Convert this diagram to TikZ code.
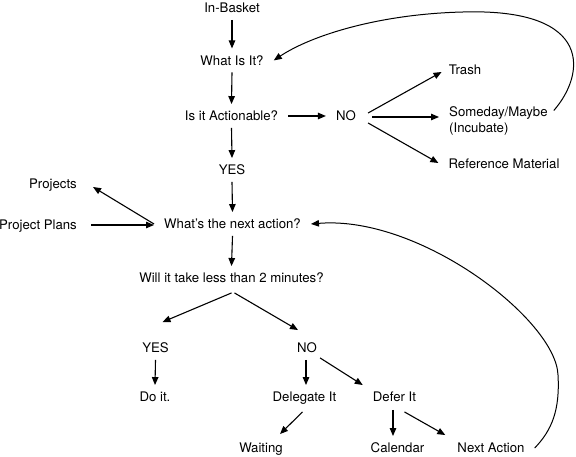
\documentclass[tikz,border=0pt]{standalone}
\usepackage{fontspec}
\setmainfont{TeX Gyre Heros}
\usetikzlibrary{arrows.meta,calc}
\begin{document}
\begin{tikzpicture}[x=1pt,y=-1pt,
  lbl/.style={inner xsep=10pt,inner ysep=7pt,text height=9.5pt,text depth=0pt,font=\fontsize{13.2}{16}\selectfont},
  mlbl/.style={inner xsep=10pt,inner ysep=7pt,align=left,font=\fontsize{13.2}{16}\selectfont},
  arr/.style={line width=1.1pt,-{Triangle[length=8pt,width=6.5pt]}},
  crv/.style={line width=1pt,-{Triangle[length=8pt,width=6.5pt]}}]
\useasboundingbox (0,0) rectangle (576,457);
% nodes
\node[lbl] (inb) at (232,8) {In-Basket};
\node[lbl] (what) at (232,60.4) {What Is It?};
\node[lbl] (act) at (231.5,116) {Is it Actionable?};
\node[lbl] (no1) at (346,116) {NO};
\node[lbl] (trash) at (465,70) {Trash};
\node[mlbl,anchor=north west] (someday) at (439,99) {Someday/Maybe\\(Incubate)};
\node[lbl] (ref) at (504,164) {Reference Material};
\node[lbl] (yes1) at (232,170) {YES};
\node[lbl] (projects) at (53,184) {Projects};
\node[lbl] (plans) at (38,225) {Project Plans};
\node[lbl] (next) at (232.5,224) {What's the next action?};
\node[lbl] (will) at (231.5,278) {Will it take less than 2 minutes?};
\node[lbl] (yes2) at (155.5,348) {YES};
\node[lbl] (doit) at (155,397) {Do it.};
\node[lbl] (no2) at (307,348) {NO};
\node[lbl] (delegate) at (304.5,397) {Delegate It};
\node[lbl] (defer) at (394.5,397) {Defer It};
\node[lbl] (waiting) at (261,448) {Waiting};
\node[lbl] (calendar) at (397.5,448) {Calendar};
\node[lbl] (nexta) at (491,448) {Next Action};
% helper start points
\coordinate (noS) at ($(no1.east)+(6,1)$);
\coordinate (plS) at ($(plans.east)+(4,0)$);
\coordinate (no2S) at ($(no2.south)+(-1,0)$);
\coordinate (defS) at ($(defer.south)+(-1.5,1)$);
% straight connectors
\draw[arr] (inb.south) -- (what.north);
\draw[arr] (what.south) -- (act.north);
\draw[arr] (act.south) -- (yes1.north);
\draw[arr] (act.east) -- (no1.west);
\draw[arr] ($(no1.east)+(2,-3)$) -- ($(trash.west)+(3,2)$);
\draw[arr] (noS) -- (noS -| someday.west);
\draw[arr] ($(no1.east)+(2,7)$) -- ($(ref.west)+(0,-1)$);
\draw[arr] (yes1.south) -- (next.north);
\draw[arr] (next.west) -- ($(projects.east)+(6,3)$);
\draw[arr] (plS) -- (plS -| next.west);
\draw[arr] (next.south) -- (will.north);
\draw[arr] ($(will.south)+(0,3)$) -- ($(yes2.north)+(7,-14)$);
\draw[arr] ($(will.south)+(3,3)$) -- ($(no2.north)+(-9,-6)$);
\draw[arr] (yes2.south) -- (doit.north);
\draw[arr] (no2S) -- (no2S |- delegate.north);
\draw[arr] ($(no2.south east)+(-7,-2)$) -- (defer.north west);
\draw[arr] ($(delegate.south)+(-2,3)$) -- ($(waiting.north)+(19,-2)$);
\draw[arr] (defS) -- (defS |- calendar.north);
\draw[arr] ($(defer.south)+(10,3)$) -- ($(nexta.north west)+(-2,-1)$);
% curved return connectors
\draw[crv] ($(someday.east)+(-4,-10)$) .. controls (585,75) and (595,8) .. (463,12)
  .. controls (380,14) and (312,35) .. (what.east);
\draw[crv] (nexta.east) .. controls (552,430) and (560,410) .. (558,375)
  .. controls (556,320) and (420,215) .. (next.east);
\end{tikzpicture}
\end{document}
